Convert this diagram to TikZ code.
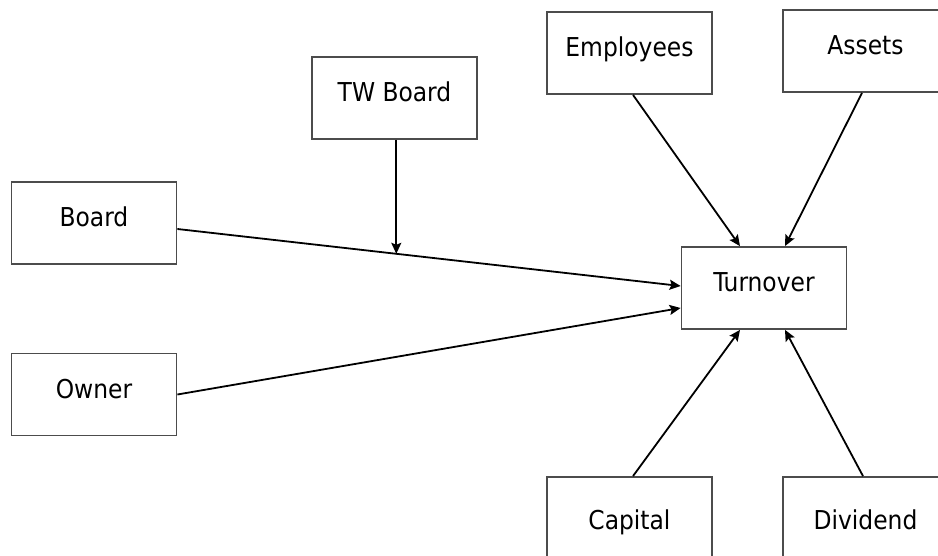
\documentclass[tikz,border=0pt]{standalone}
\usepackage{fontspec}
\setmainfont{DejaVu Sans Condensed}
\usetikzlibrary{arrows.meta}

\tikzset{
  box/.style={draw=black!70, line width=0.9pt, minimum width=82.5pt, minimum height=41pt,
    text height=10pt, text depth=6pt, inner sep=0pt, font=\fontsize{13}{15}\selectfont},
  arr/.style={-{Stealth[length=5.5pt,width=5pt,inset=1pt]}, line width=0.9pt}
}

\begin{document}
\begin{tikzpicture}[x=0.5pt,y=-0.5pt]
  \clip (0,0) rectangle (938,556);
  \fill[white] (0,0) rectangle (938,556);
  % boxes
  \node[box] (twboard) at (394.5,98) {TW Board};
  \node[box] (board) at (94,223) {Board};
  \node[box] (owner) at (94,394.5) {Owner};
  \node[box] (employees) at (629.5,53) {Employees};
  \node[box] (assets) at (865.5,51) {Assets};
  \node[box] (turnover) at (764,288) {Turnover};
  \node[box, text height=17pt] (capital) at (629.5,518) {Capital};
  \node[box, text height=17pt] (dividend) at (865.5,518) {Dividend};

  % left side
  \draw[arr] ([yshift=-3pt]board.east) -- coordinate[pos=0.435] (hit) ([yshift=1pt]turnover.west);
  \draw[arr] (owner.east) -- ([yshift=-10pt]turnover.west);
  \draw[arr] (hit |- twboard.south) -- (hit);

  % top and bottom
  \draw[arr] ([xshift=1.75pt]employees.south) -- ([xshift=-12pt]turnover.north);
  \draw[arr] ([xshift=-1.75pt]assets.south) -- ([xshift=10.5pt]turnover.north);
  \draw[arr] ([xshift=1.75pt]capital.north) -- ([xshift=-12pt]turnover.south);
  \draw[arr] ([xshift=-1.25pt]dividend.north) -- ([xshift=10.5pt]turnover.south);
\end{tikzpicture}
\end{document}
